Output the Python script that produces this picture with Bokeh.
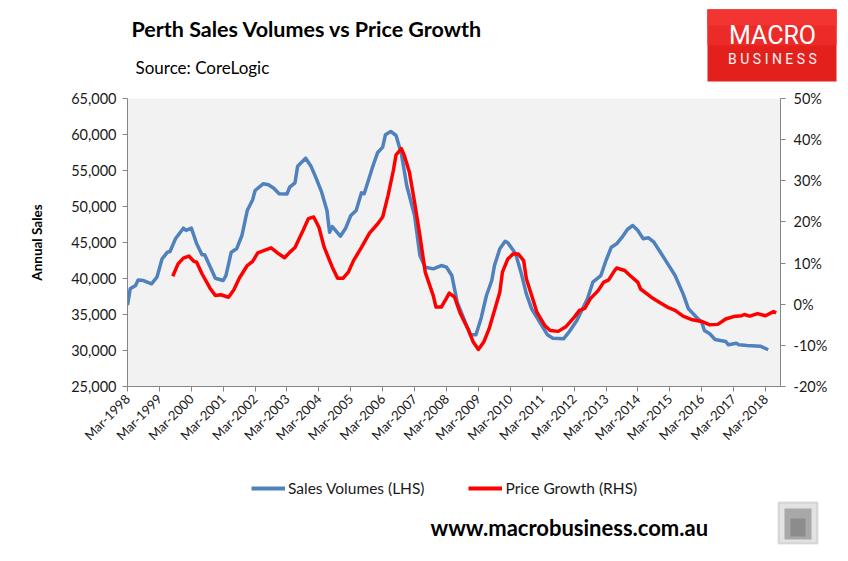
import math
import pandas as pd
from bokeh.plotting import figure
from bokeh.layouts import column
from bokeh.models import (Range1d, LinearAxis, FixedTicker, NumeralTickFormatter, Plot,
                          PrintfTickFormatter, DatetimeTickFormatter, Label, Legend,
                          LegendItem, BoxAnnotation, ColumnDataSource)
from bokeh.embed import file_html
from bokeh.resources import INLINE

# ---------------- data ----------------
sales_dates = ["1998-03", "1998-04", "1998-06", "1998-07", "1998-09", "1998-12", "1999-02", "1999-04",
               "1999-06", "1999-07", "1999-09", "1999-12", "2000-01", "2000-03", "2000-05", "2000-07",
               "2000-08", "2000-12", "2001-03", "2001-04", "2001-06", "2001-08", "2001-10", "2001-12",
               "2002-02", "2002-03", "2002-06", "2002-08", "2002-10", "2002-12", "2003-03", "2003-04",
               "2003-06", "2003-07", "2003-10", "2003-12", "2004-02", "2004-04", "2004-06", "2004-07",
               "2004-08", "2004-11", "2005-01", "2005-03", "2005-05", "2005-07", "2005-08", "2005-11",
               "2006-01", "2006-03", "2006-04", "2006-06", "2006-08", "2006-10", "2006-12", "2007-03",
               "2007-05", "2007-07", "2007-10", "2008-01", "2008-03", "2008-05", "2008-07", "2008-10",
               "2008-12", "2009-02", "2009-04", "2009-06", "2009-08", "2009-09", "2009-11", "2010-01",
               "2010-02", "2010-05", "2010-07", "2010-09", "2010-11", "2011-02", "2011-05", "2011-07",
               "2011-11", "2012-01", "2012-04", "2012-08", "2012-10", "2013-01", "2013-03", "2013-05",
               "2013-07", "2013-09", "2013-11", "2014-01", "2014-03", "2014-05", "2014-07", "2014-09",
               "2015-01", "2015-05", "2015-08", "2015-10", "2016-01", "2016-03", "2016-04", "2016-06",
               "2016-08", "2016-12", "2017-01", "2017-04", "2017-05", "2017-08", "2018-01", "2018-04"]
sales_volumes = [36300, 38570, 39030, 39800, 39720, 39260, 40180, 42730,
                 43650, 43750, 45510, 46990, 46670, 46990, 44820, 43290,
                 43290, 40040, 39720, 40410, 43650, 44120, 45970, 49440,
                 50930, 52220, 53150, 53010, 52540, 51770, 51720, 52680,
                 53290, 55600, 56710, 55600, 53840, 51990, 49440, 46430,
                 47220, 45870, 46990, 48750, 49440, 51900, 51770, 55320,
                 57460, 58240, 59960, 60420, 59860, 57320, 52920, 48750,
                 43190, 41570, 41340, 41800, 41570, 40410, 36710, 33930,
                 32180, 32180, 34490, 37640, 39720, 41800, 44120, 45180,
                 44950, 43430, 40880, 37870, 35790, 33930, 32180, 31710,
                 31620, 32540, 34170, 37180, 39490, 40410, 42500, 44350,
                 44820, 45740, 46810, 47360, 46670, 45510, 45650, 45040,
                 42730, 40410, 37870, 35790, 34630, 33930, 32780, 32320,
                 31530, 31250, 30790, 31010, 30790, 30690, 30600, 30100]

price_dates = ["1999-08", "1999-10", "1999-12", "2000-02", "2000-04", "2000-05", "2000-07", "2000-10",
               "2000-12", "2001-02", "2001-05", "2001-07", "2001-09", "2001-12", "2002-02", "2002-04",
               "2002-07", "2002-09", "2002-12", "2003-02", "2003-04", "2003-06", "2003-09", "2003-11",
               "2004-01", "2004-03", "2004-05", "2004-08", "2004-10", "2004-12", "2005-02", "2005-04",
               "2005-07", "2005-10", "2006-01", "2006-03", "2006-05", "2006-07", "2006-08", "2006-10",
               "2006-11", "2007-01", "2007-03", "2007-05", "2007-07", "2007-10", "2007-11", "2008-01",
               "2008-03", "2008-04", "2008-06", "2008-08", "2008-11", "2009-01", "2009-03", "2009-05",
               "2009-07", "2009-09", "2009-11", "2009-12", "2010-02", "2010-04", "2010-06", "2010-08",
               "2010-09", "2010-11", "2011-01", "2011-04", "2011-06", "2011-09", "2011-12", "2012-03",
               "2012-05", "2012-07", "2012-09", "2012-12", "2013-02", "2013-04", "2013-06", "2013-07",
               "2013-10", "2013-12", "2014-03", "2014-04", "2014-08", "2014-11", "2015-02", "2015-05",
               "2015-08", "2015-11", "2016-03", "2016-06", "2016-09", "2016-12", "2017-03", "2017-06",
               "2017-07", "2017-09", "2017-12", "2018-03", "2018-06", "2018-07"]
price_growth = [6.8, 9.8, 11.2, 11.7, 10.4, 10.2, 7.4, 3.9,
                2.1, 2.3, 1.7, 3.5, 6.3, 9.4, 10.4, 12.5,
                13.2, 13.7, 12.2, 11.3, 12.6, 13.8, 17.9, 20.8,
                21.2, 18.7, 13.8, 9.0, 6.3, 6.3, 7.8, 10.6,
                13.8, 17.3, 19.5, 21.2, 26.4, 32.5, 36.3, 37.8,
                36.3, 32.1, 24.8, 16.7, 7.8, 2.1, -0.7, -0.7,
                1.5, 2.7, 1.7, -2.0, -6.0, -9.2, -11.0, -9.2,
                -6.0, -1.5, 2.9, 7.8, 11.0, 12.2, 12.2, 10.6,
                6.2, 2.1, -2.0, -5.2, -6.4, -6.6, -5.4, -3.2,
                -1.5, -1.0, 1.3, 3.3, 5.3, 5.9, 8.0, 8.8,
                8.2, 7.0, 5.3, 3.7, 1.7, 0.5, -0.7, -1.5,
                -2.9, -3.7, -4.2, -5.0, -4.9, -3.6, -3.0, -2.8,
                -2.5, -2.9, -2.3, -2.8, -1.8, -2.1]

tick_years = list(range(1998, 2019))
left_ticks = [25000, 30000, 35000, 40000, 45000, 50000, 55000, 60000, 65000]
right_ticks = [-20, -10, 0, 10, 20, 30, 40, 50]

title_text = "Perth Sales Volumes vs Price Growth"
source_text = "Source: CoreLogic"
url_text = "www.macrobusiness.com.au"
series_names = ["Sales Volumes (LHS)", "Price Growth (RHS)"]
series_colors = ["#4F81BD", "#FF0000"]

# ---------------- layout constants ----------------
W = 845
TOP_H = 88
MAIN_H = 368
BOT_H = 102
FONT = "Lato"
TXT = "#1a1a1a"
AXC = "#868686"
HAS_FRAME_ALIGN = "frame_align" in Plot.properties()


def no_align(f):
    if HAS_FRAME_ALIGN:
        f.frame_align = False


def blank_fig(h):
    f = figure(width=W, height=h, output_backend="svg", toolbar_location=None,
               x_range=Range1d(0, W), y_range=Range1d(h, 0),
               min_border=0, min_border_left=0, min_border_right=0,
               min_border_top=0, min_border_bottom=0)
    f.axis.visible = False
    f.grid.visible = False
    f.outline_line_color = None
    f.background_fill_color = "white"
    f.border_fill_color = "white"
    no_align(f)
    return f


def box(f, l, r, t, b, fill, line=None, lw=1):
    f.add_layout(BoxAnnotation(left=l, right=r, top=t, bottom=b, fill_color=fill,
                               fill_alpha=1, line_color=line, line_width=lw))


# ---------------- header ----------------
top = blank_fig(TOP_H)
top.add_layout(Label(x=131, y=28, text=title_text, text_font=FONT, text_font_style="bold",
                     text_font_size="21.5px", text_color="black", text_baseline="middle"))
top.add_layout(Label(x=135, y=67, text=source_text, text_font=FONT, text_font_size="17px",
                     text_color="black", text_baseline="middle"))
box(top, 707, 836, 9, 81, "#E4201D")
box(top, 707, 836, 9, 45, "#EC2A28")
box(top, 707, 836, 9, 25, "#F23532")
top.add_layout(Label(x=772, y=35, text="MACRO", text_align="center", text_baseline="middle",
                     text_font="Roboto", text_font_size="25px", text_color="white"))
top.add_layout(Label(x=772, y=58, text="B U S I N E S S", text_align="center",
                     text_baseline="middle", text_font="Roboto", text_font_size="14px",
                     text_color="#f4f4f4"))

# ---------------- main chart ----------------
sales_src = ColumnDataSource(dict(x=pd.to_datetime(sales_dates), y=sales_volumes))
price_src = ColumnDataSource(dict(x=pd.to_datetime(price_dates), y=price_growth))

p = figure(width=W, height=MAIN_H, output_backend="svg", toolbar_location=None,
           x_axis_type="datetime",
           x_range=Range1d(pd.Timestamp("1998-03-01"), pd.Timestamp("2018-08-20")),
           y_range=Range1d(25000, 65000),
           min_border_left=127, min_border_right=W - 780, min_border_top=10,
           min_border_bottom=MAIN_H - 10 - 288)
no_align(p)
p.extra_y_ranges = {"pct": Range1d(-20, 50)}
p.background_fill_color = "#F2F2F2"
p.border_fill_color = "white"
p.outline_line_color = None
p.grid.visible = False

p.line("x", "y", source=sales_src, line_color=series_colors[0], line_width=3.5,
       line_join="round")
p.line("x", "y", source=price_src, line_color=series_colors[1], line_width=3.5,
       y_range_name="pct", line_join="round")


def style_axis(ax, size):
    ax.axis_line_color = AXC
    ax.major_tick_line_color = AXC
    ax.major_tick_out = 5
    ax.major_tick_in = 0
    ax.minor_tick_line_color = None
    ax.major_label_text_font = FONT
    ax.major_label_text_font_size = size
    ax.major_label_text_color = TXT


xa = p.xaxis[0]
xa.ticker = FixedTicker(ticks=[pd.Timestamp(f"{y}-03-01").value / 1e6 for y in tick_years])
fmt = "%b-%Y"
xa.formatter = DatetimeTickFormatter(milliseconds=fmt, seconds=fmt, minsec=fmt, minutes=fmt,
                                     hourmin=fmt, hours=fmt, days=fmt, months=fmt, years=fmt)
xa.major_label_orientation = math.pi / 4
style_axis(xa, "13px")

ya = p.yaxis[0]
ya.ticker = FixedTicker(ticks=left_ticks)
ya.formatter = NumeralTickFormatter(format="0,0")
style_axis(ya, "14.5px")
ya.major_label_standoff = 6
ya.axis_label = "Annual Sales"
ya.axis_label_text_font = FONT
ya.axis_label_text_font_style = "bold"
ya.axis_label_text_font_size = "13.5px"
ya.axis_label_text_color = "black"
ya.axis_label_standoff = 23

ra = LinearAxis(y_range_name="pct", ticker=FixedTicker(ticks=right_ticks),
                formatter=PrintfTickFormatter(format="%d%%"))
style_axis(ra, "14.5px")
ra.major_label_standoff = 8
p.add_layout(ra, "right")

# ---------------- footer ----------------
bot = blank_fig(BOT_H)
leg_r = [bot.line(x=[float("nan")], y=[float("nan")], line_color=c, line_width=4)
         for c in series_colors]
legend = Legend(items=[LegendItem(label=n, renderers=[r]) for n, r in zip(series_names, leg_r)],
                orientation="horizontal", location=(251, BOT_H - 41),
                glyph_width=34, glyph_height=18, label_standoff=3, spacing=44,
                padding=0, margin=0, background_fill_alpha=0, border_line_alpha=0,
                label_text_font=FONT, label_text_font_size="15.5px", label_text_color=TXT)
bot.add_layout(legend)
bot.add_layout(Label(x=430, y=71, text=url_text, text_font=FONT, text_font_style="bold",
                     text_font_size="22px", text_color="black", text_baseline="middle"))
# small wolf-logo thumbnail (stylised)
box(bot, 778, 817, 46, 87, "#e2e2e2", "#9a9a9a", 2)
box(bot, 784, 811, 52, 83, "#a8a8a8")
box(bot, 790, 805, 62, 80, "#8c8c8c")

layout = column(top, p, bot, spacing=0)
open("out.html", "w").write(file_html(layout, INLINE))
